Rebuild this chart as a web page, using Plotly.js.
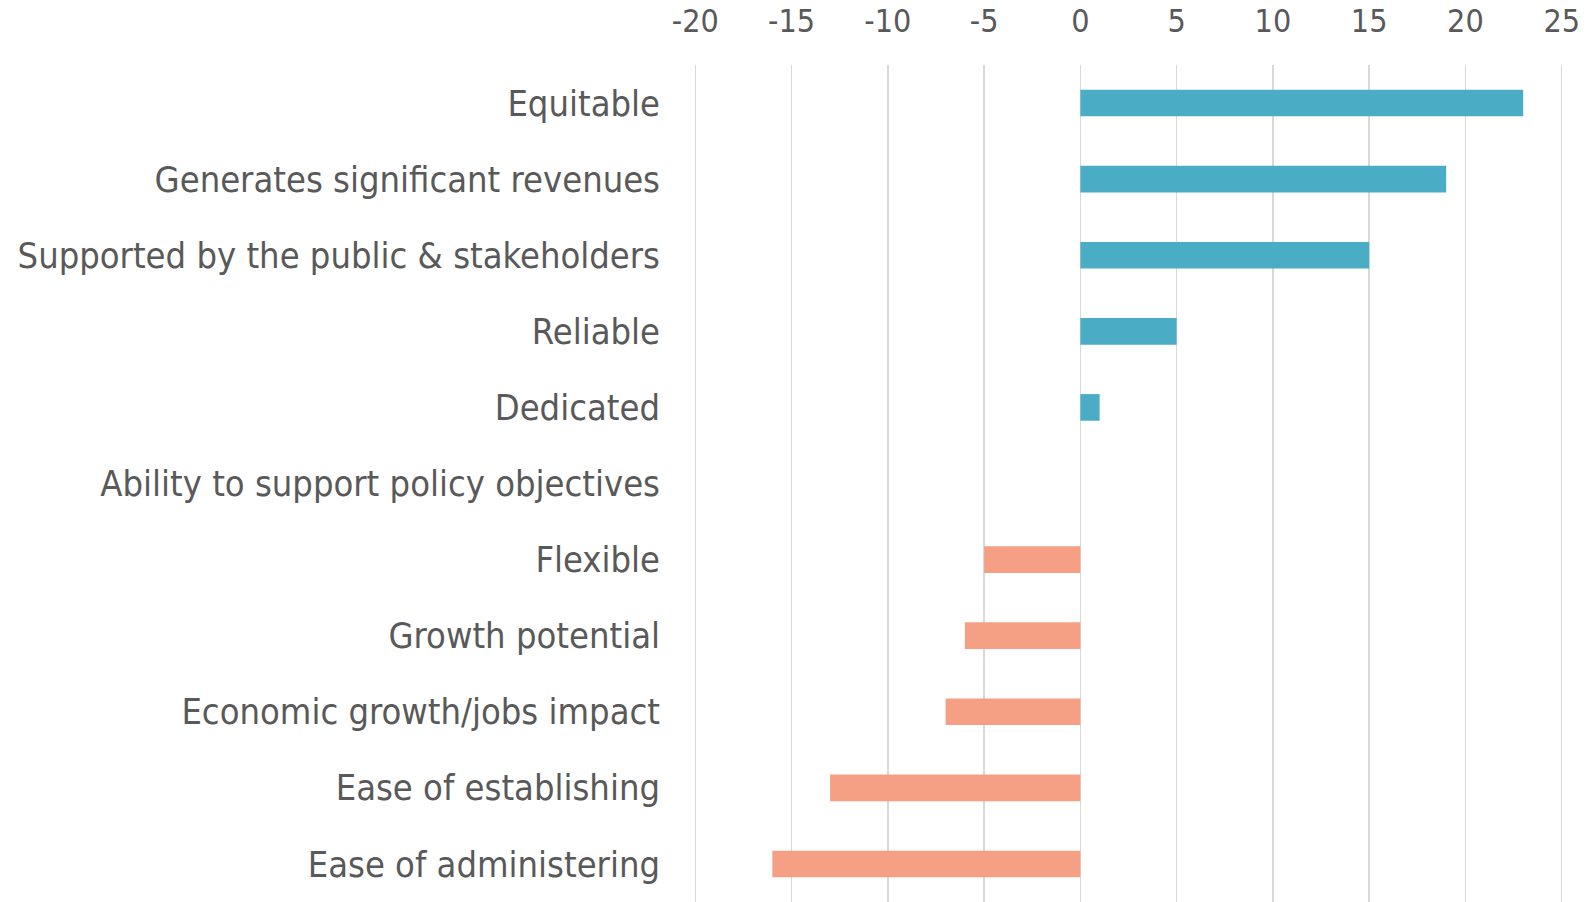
<!DOCTYPE html>
<html>
<head>
<meta charset="utf-8">
<script src="https://cdn.plot.ly/plotly-3.0.1.min.js"></script>
<style>html,body{margin:0;padding:0;background:#fff;}#chart{width:1596px;height:902px;}</style>
</head>
<body>
<div id="chart"></div>
<script>
const categories = [
  "Equitable",
  "Generates significant revenues",
  "Supported by the public & stakeholders",
  "Reliable",
  "Dedicated",
  "Ability to support policy objectives",
  "Flexible",
  "Growth potential",
  "Economic growth/jobs impact",
  "Ease of establishing",
  "Ease of administering"
];
const values = [23, 19, 15, 5, 1, 0, -5, -6, -7, -13, -16];
const tickVals = [-20, -15, -10, -5, 0, 5, 10, 15, 20, 25];
const positiveColor = "#4BACC6";
const negativeColor = "#F5A085";

const colors = values.map(v => v >= 0 ? positiveColor : negativeColor);
const fontFam = "'DejaVu Sans Condensed', 'Liberation Sans Narrow', sans-serif";

Plotly.newPlot("chart", [{
  type: "bar",
  orientation: "h",
  x: values,
  y: categories,
  marker: {color: colors},
  hoverinfo: "none"
}], {
  width: 1596, height: 902,
  margin: {l: 693, r: 32, t: 65, b: 0},
  paper_bgcolor: "#fff", plot_bgcolor: "#fff",
  bargap: 0.65,
  showlegend: false,
  font: {family: fontFam, color: "#595959", size: 36},
  xaxis: {
    side: "top",
    range: [-20.12, 25.12],
    tickvals: tickVals,
    ticktext: tickVals.map(String),
    showgrid: true, gridcolor: "#D9D9D9", gridwidth: 1.5,
    zeroline: false, showline: false,
    ticks: "", ticklabelstandoff: 26,
    tickfont: {family: fontFam, size: 32, color: "#595959"}
  },
  yaxis: {
    autorange: "reversed",
    showgrid: false, zeroline: false, showline: false,
    ticks: "", ticklabelstandoff: 32,
    tickfont: {family: fontFam, size: 36, color: "#595959"}
  }
}, {staticPlot: true});
</script>
</body>
</html>
